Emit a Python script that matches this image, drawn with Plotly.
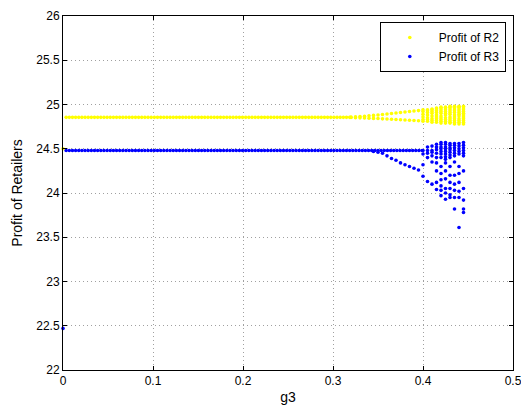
import numpy as np
import plotly.graph_objects as go

# ---- data ----
# initial point at g3 = 0
g3_init = [0.0]
r2_init = [24.50]
r3_init = [22.47]

# flat (stable) region sample grid
g3_flat_r2 = [round(v, 4) for v in np.arange(0.0035, 0.3201, 0.0035)]
g3_flat_r3 = [round(v, 4) for v in np.arange(0.0035, 0.4001, 0.0035)]
r2_flat_level = 24.855
r3_flat_level = 24.48

# yellow (R2) fan after bifurcation
g3_fan = [0.320, 0.325, 0.330, 0.335, 0.340, 0.345, 0.350, 0.355, 0.360,
          0.365, 0.370, 0.375, 0.380, 0.385, 0.390, 0.395]
r2_fan_upper = [24.857, 24.860, 24.864, 24.868, 24.872, 24.877, 24.882, 24.887,
                24.892, 24.898, 24.904, 24.910, 24.916, 24.921, 24.926, 24.931]
r2_fan_lower = [24.853, 24.851, 24.849, 24.847, 24.845, 24.843, 24.841, 24.838,
                24.836, 24.833, 24.830, 24.828, 24.825, 24.822, 24.819, 24.816]

# blue (R3) lower branch after bifurcation
g3_r3_branch = [0.345, 0.350, 0.355, 0.360, 0.365, 0.370, 0.375, 0.380,
                0.385, 0.390, 0.395]
r3_branch = [24.47, 24.46, 24.45, 24.42, 24.39, 24.37, 24.34, 24.32,
             24.30, 24.28, 24.26]

# chaotic columns
g3_cols = [0.400, 0.405, 0.410, 0.415, 0.420, 0.425, 0.430, 0.435, 0.440, 0.445]
r2_cols = [
    [24.81, 24.83, 24.86, 24.89, 24.92, 24.94],
    [24.81, 24.83, 24.85, 24.88, 24.91, 24.93, 24.94],
    [24.80, 24.82, 24.84, 24.87, 24.90, 24.92, 24.94, 24.95],
    [24.80, 24.82, 24.84, 24.86, 24.88, 24.91, 24.93, 24.95, 24.96],
    [24.79, 24.81, 24.83, 24.85, 24.87, 24.90, 24.92, 24.94, 24.96, 24.97],
    [24.79, 24.81, 24.83, 24.85, 24.88, 24.90, 24.92, 24.94, 24.96, 24.97],
    [24.79, 24.80, 24.82, 24.84, 24.86, 24.89, 24.91, 24.93, 24.95, 24.97, 24.98],
    [24.78, 24.80, 24.82, 24.84, 24.86, 24.88, 24.91, 24.93, 24.95, 24.97, 24.98],
    [24.78, 24.80, 24.82, 24.84, 24.87, 24.89, 24.91, 24.93, 24.95, 24.97, 24.98],
    [24.78, 24.80, 24.82, 24.84, 24.86, 24.88, 24.90, 24.92, 24.94, 24.96, 24.98],
]
r3_cols = [
    [24.48, 24.44, 24.32, 24.19],
    [24.52, 24.48, 24.45, 24.40, 24.13],
    [24.53, 24.48, 24.46, 24.42, 24.35, 24.10],
    [24.55, 24.52, 24.49, 24.45, 24.40, 24.34, 24.25, 24.12, 24.04],
    [24.57, 24.55, 24.52, 24.50, 24.47, 24.44, 24.40, 24.30, 24.22, 24.15, 24.08, 24.03, 23.97],
    [24.57, 24.55, 24.52, 24.50, 24.47, 24.44, 24.41, 24.38, 24.34, 24.25, 24.16, 24.05, 24.00, 23.93],
    [24.56, 24.54, 24.51, 24.49, 24.46, 24.43, 24.40, 24.30, 24.20, 24.12, 24.05, 23.98, 23.95],
    [24.56, 24.54, 24.51, 24.48, 24.45, 24.42, 24.35, 24.20, 24.10, 24.03, 23.95, 23.82],
    [24.56, 24.53, 24.50, 24.47, 24.44, 24.30, 24.22, 24.12, 24.02, 23.95, 23.61],
    [24.57, 24.54, 24.51, 24.48, 24.45, 24.42, 24.25, 24.05, 23.92, 23.82, 23.78],
]

x_ticks = [0, 0.1, 0.2, 0.3, 0.4, 0.5]
x_tick_labels = ["0", "0.1", "0.2", "0.3", "0.4", "0.5"]
y_ticks = [22, 22.5, 23, 23.5, 24, 24.5, 25, 25.5, 26]
y_tick_labels = ["22", "22.5", "23", "23.5", "24", "24.5", "25", "25.5", "26"]

# ---- assemble series ----
x2 = list(g3_init) + g3_flat_r2 + g3_fan + g3_fan
y2 = list(r2_init) + [r2_flat_level] * len(g3_flat_r2) + r2_fan_upper + r2_fan_lower
x3 = list(g3_init) + g3_flat_r3 + g3_r3_branch
y3 = list(r3_init) + [r3_flat_level] * len(g3_flat_r3) + r3_branch
for g, col in zip(g3_cols, r2_cols):
    x2 += [g] * len(col)
    y2 += col
for g, col in zip(g3_cols, r3_cols):
    x3 += [g] * len(col)
    y3 += col

FONT = "Liberation Sans, Arial"

fig = go.Figure()
fig.add_trace(go.Scatter(x=x2, y=y2, mode="markers", name="Profit of R2", cliponaxis=False,
                         marker=dict(color="#ffff00", size=3.6, symbol="circle", line=dict(width=0))))
fig.add_trace(go.Scatter(x=x3, y=y3, mode="markers", name="Profit of R3", cliponaxis=False,
                         marker=dict(color="#0000ff", size=3.6, symbol="circle", line=dict(width=0))))

axis_common = dict(
    showline=True, linecolor="black", linewidth=1, mirror="allticks",
    ticks="inside", ticklen=4, tickcolor="black",
    showgrid=True, gridcolor="#a0a0a0", griddash="1px,3px", gridwidth=1,
    zeroline=False, automargin=False,
    tickfont=dict(family=FONT, size=12, color="black"),
)
fig.update_xaxes(range=[0, 0.5], tickvals=x_ticks, ticktext=x_tick_labels,
                 title=dict(text="g3", font=dict(family=FONT, size=14, color="black"), standoff=4),
                 **axis_common)
fig.update_yaxes(range=[22, 26], tickvals=y_ticks, ticktext=y_tick_labels,
                 title=dict(text="Profit of Retailers", font=dict(family=FONT, size=14, color="black"), standoff=10),
                 **axis_common)

# the page body adds an 8px offset, so the figure is sized to fit inside the window
fig.update_layout(
    width=521, height=400,
    margin=dict(l=55, r=16, t=8, b=38),
    paper_bgcolor="white", plot_bgcolor="white",
    showlegend=True,
    legend=dict(x=0.984, y=0.983, xanchor="right", yanchor="top",
                bgcolor="white", bordercolor="black", borderwidth=1,
                font=dict(family=FONT, size=12, color="black"),
                itemwidth=48, tracegroupgap=0),
)

fig.write_html("out.html")
